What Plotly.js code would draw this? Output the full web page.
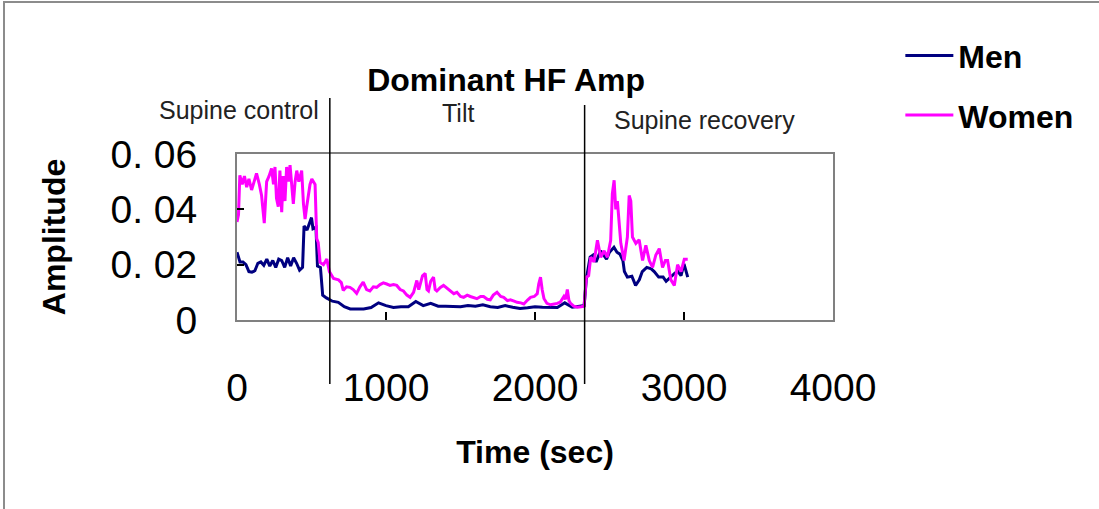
<!DOCTYPE html>
<html>
<head>
<meta charset="utf-8">
<script src="https://cdn.plot.ly/plotly-3.0.1.min.js"></script>
<style>
  html, body { margin: 0; padding: 0; background: #fff; }
  #wrap { position: relative; width: 1099px; height: 509px; overflow: hidden; }
  #chart { width: 1099px; height: 509px; }
  #frame { position: absolute; left: 3px; top: 1px; width: 1200px; height: 600px;
           border-left: 2px solid #8c8c8c; border-top: 2px solid #8c8c8c; pointer-events: none; }
</style>
</head>
<body>
<div id="wrap"><div id="chart"></div><div id="frame"></div></div>
<script>
// ---- Data ----
const seriesNames = ["Men", "Women"];

const menTime = [0,20,40,60,80,100,120,140,160,180,200,220,240,260,280,300,320,340,360,380,400,420,440,450,470,490,500,510,530,540,560,575,600,640,680,720,760,800,850,900,950,1000,1050,1100,1150,1200,1250,1300,1350,1400,1450,1500,1550,1600,1650,1700,1750,1800,1850,1900,1950,2000,2050,2100,2150,2200,2250,2300,2330,2345,2370,2390,2410,2440,2460,2480,2500,2530,2550,2570,2590,2600,2620,2650,2675,2700,2720,2750,2780,2800,2830,2860,2880,2910,2940,2960,2980,3000,3025];
const menAmp = [0.0245,0.021,0.021,0.020,0.0175,0.0173,0.0178,0.0205,0.021,0.0198,0.022,0.0195,0.0215,0.019,0.022,0.0215,0.019,0.0225,0.0195,0.0225,0.0205,0.018,0.019,0.034,0.0325,0.036,0.037,0.033,0.0335,0.0195,0.019,0.009,0.008,0.0068,0.0064,0.0048,0.004,0.004,0.004,0.0045,0.0062,0.0052,0.0045,0.0048,0.0048,0.0067,0.0052,0.006,0.005,0.005,0.005,0.0048,0.0052,0.005,0.0055,0.0048,0.0045,0.0052,0.0046,0.0042,0.0044,0.0048,0.0046,0.0046,0.0045,0.0062,0.0046,0.005,0.0052,0.015,0.0227,0.0235,0.021,0.025,0.0235,0.022,0.0245,0.0263,0.0245,0.0238,0.0215,0.0175,0.0155,0.0158,0.0125,0.0145,0.0175,0.019,0.0185,0.0175,0.0155,0.0155,0.014,0.0155,0.017,0.0175,0.016,0.0203,0.0155];

const womenTime = [0,10,19,35,50,65,80,98,115,131,150,165,183,199,215,232,245,255,265,277,288,295,300,310,322,333,345,356,367,378,390,401,415,434,446,457,468,479,490,502,513,524,535,545,558,580,603,620,648,681,700,713,735,758,780,803,825,847,870,892,915,937,960,982,1005,1027,1050,1072,1095,1117,1140,1162,1185,1207,1220,1229,1245,1263,1275,1285,1300,1319,1330,1341,1365,1386,1410,1431,1455,1476,1500,1521,1545,1566,1590,1610,1635,1655,1680,1700,1720,1745,1770,1790,1815,1835,1860,1880,1905,1925,1950,1970,1995,2015,2025,2037,2048,2060,2080,2104,2130,2149,2170,2194,2205,2217,2228,2239,2260,2284,2310,2329,2345,2360,2374,2396,2419,2441,2464,2486,2508,2519,2531,2542,2553,2565,2576,2598,2620,2632,2643,2654,2677,2699,2722,2744,2767,2789,2811,2834,2856,2875,2890,2912,2935,2957,2980,3002,3025];
const womenAmp = [0.0354,0.038,0.0523,0.049,0.052,0.048,0.051,0.047,0.050,0.053,0.049,0.045,0.035,0.050,0.052,0.0548,0.049,0.0553,0.044,0.041,0.054,0.045,0.039,0.052,0.043,0.0553,0.050,0.056,0.048,0.042,0.050,0.054,0.050,0.054,0.042,0.0365,0.041,0.045,0.049,0.051,0.050,0.049,0.0294,0.028,0.0208,0.020,0.022,0.0175,0.015,0.0145,0.0135,0.0107,0.012,0.0118,0.011,0.0096,0.012,0.0137,0.011,0.0105,0.012,0.0118,0.0128,0.0134,0.013,0.0125,0.0128,0.0125,0.011,0.0105,0.009,0.0082,0.010,0.0143,0.011,0.0125,0.016,0.0168,0.011,0.0105,0.014,0.0155,0.011,0.0105,0.0118,0.0125,0.0115,0.0108,0.0095,0.010,0.0085,0.0082,0.009,0.0085,0.008,0.0077,0.0085,0.0085,0.0075,0.0073,0.009,0.010,0.0085,0.0082,0.007,0.0073,0.0068,0.0064,0.0062,0.0058,0.0072,0.0082,0.0085,0.0095,0.013,0.0155,0.011,0.0078,0.006,0.0055,0.0058,0.006,0.0065,0.0085,0.0075,0.011,0.007,0.006,0.005,0.0046,0.0048,0.005,0.0155,0.016,0.0227,0.021,0.0288,0.0227,0.025,0.0227,0.0288,0.0456,0.0505,0.040,0.043,0.035,0.0277,0.0215,0.030,0.045,0.043,0.030,0.0277,0.029,0.0215,0.027,0.0215,0.019,0.0235,0.0258,0.019,0.0215,0.0215,0.0145,0.0125,0.020,0.0175,0.022,0.022];

const xTickVals = [0, 1000, 2000, 3000, 4000];
const xTickText = ["0", "1000", "2000", "3000", "4000"];
const yTickVals = [0, 0.02, 0.04, 0.06];
const yTickText = ["0", "0. 02", "0. 04", "0. 06"];

const phaseNames = ["Supine control", "Tilt", "Supine recovery"];
const phaseBounds = [623, 2333];   // seconds: end of supine control, end of tilt

// ---- Chart ----
const FONT = "Liberation Sans, Arial, sans-serif";
const colors = ["#000080", "#FF00FF"];

const traces = [
  { x: menTime, y: menAmp, name: seriesNames[0], type: "scatter", mode: "lines",
    line: { color: colors[0], width: 3 }, legendgroup: "a" },
  { x: womenTime, y: womenAmp, name: seriesNames[1], type: "scatter", mode: "lines",
    line: { color: colors[1], width: 3 }, legendgroup: "b" }
];

const shapes = phaseBounds.map((t, i) => ({
  type: "line", xref: "x", yref: "paper",
  x0: t, x1: t, y0: -0.386, y1: i === 0 ? 1.337 : 1.295,
  line: { color: "#000", width: 1.5 }
}));

const phaseLabelPos = [
  { x: 0.003, y: 1.265 },
  { x: 0.371, y: 1.247 },
  { x: 0.785, y: 1.205 }
];
const annotations = phaseNames.map((n, i) => ({
  text: n, xref: "paper", yref: "paper", x: phaseLabelPos[i].x, y: phaseLabelPos[i].y,
  xanchor: "center", yanchor: "middle", showarrow: false,
  font: { family: FONT, size: 25, color: "#222" }
}));

const layout = {
  width: 1099, height: 509,
  margin: { l: 237, r: 266, t: 154, b: 189 },
  paper_bgcolor: "#fff", plot_bgcolor: "#fff",
  showlegend: true,
  title: { text: "<b>Dominant HF Amp</b>", x: 0.4605, xanchor: "center", y: 0.843, yanchor: "middle",
           font: { family: FONT, size: 32, color: "#000" } },
  xaxis: {
    range: [0, 4000], tickvals: xTickVals, ticktext: xTickText,
    ticks: "inside", ticklen: 8, tickwidth: 2, tickcolor: "#000",
    showline: true, mirror: true, linecolor: "#808080", linewidth: 2,
    showgrid: false, zeroline: false,
    tickfont: { family: FONT, size: 39, color: "#000" },
    ticklabelstandoff: 32,
    title: { text: "<b>Time (sec)</b>", font: { family: FONT, size: 32, color: "#000" }, standoff: 33 }
  },
  yaxis: {
    range: [0, 0.06], tickvals: yTickVals, ticktext: yTickText,
    ticks: "inside", ticklen: 7, tickwidth: 2, tickcolor: "#000",
    showline: true, mirror: true, linecolor: "#808080", linewidth: 2,
    showgrid: false, zeroline: false,
    tickfont: { family: FONT, size: 39, color: "#000" },
    ticklabelstandoff: 30,
    title: { text: "<b>Amplitude</b>", font: { family: FONT, size: 32, color: "#000" }, standoff: 35 }
  },
  legend: {
    x: 1.113, xanchor: "left", y: 1.758, yanchor: "top",
    font: { family: FONT, size: 32, color: "#000", weight: "bold" },
    bgcolor: "rgba(0,0,0,0)", tracegroupgap: 15, traceorder: "grouped",
    itemwidth: 48
  },
  shapes: shapes,
  annotations: annotations
};

Plotly.newPlot("chart", traces, layout, { staticPlot: true, displayModeBar: false });
</script>
</body>
</html>
